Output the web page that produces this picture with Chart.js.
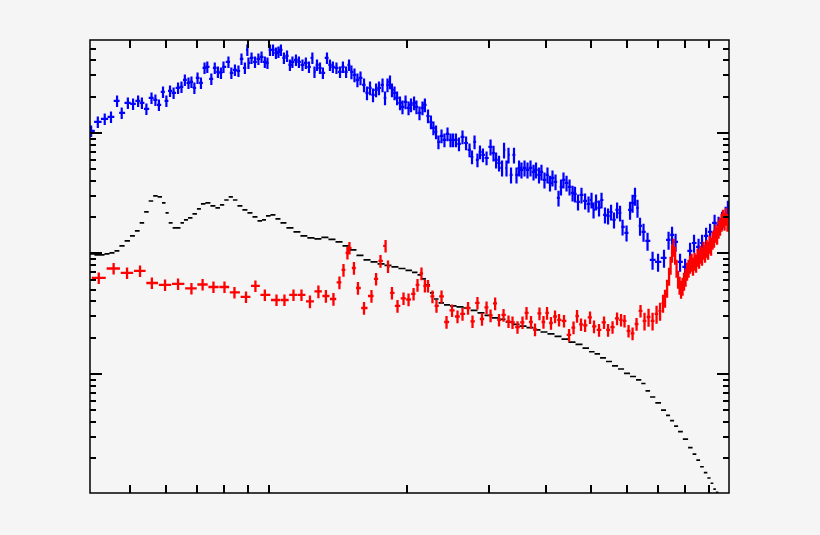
<!DOCTYPE html>
<html>
<head>
<meta charset="utf-8">
<script src="https://cdn.jsdelivr.net/npm/chart.js@4.4.1/dist/chart.umd.min.js"></script>
<style>
  html, body { margin: 0; padding: 0; background: #f5f5f5; }
  #wrap { width: 820px; height: 535px; }
</style>
</head>
<body>
<div id="wrap"><canvas id="spectrum" width="820" height="535"></canvas></div>
<script>
// blue spectrum (crosses)
const blueX = [
  0.412,0.426,0.441,0.455,0.469,0.480,0.495,0.508,0.521,0.531,
  0.543,0.557,0.568,0.578,0.590,0.600,0.611,0.622,0.636,0.647,
  0.658,0.670,0.680,0.690,0.701,0.713,0.726,0.736,0.751,0.764,
  0.776,0.788,0.798,0.818,0.830,0.845,0.860,0.873,0.888,0.899,
  0.904,0.918,0.934,0.950,0.965,0.981,0.994,1.0065,1.022,1.037,
  1.050,1.063,1.079,1.096,1.112,1.126,1.146,1.163,1.184,1.204,
  1.223,1.244,1.257,1.273,1.292,1.311,1.338,1.358,1.378,1.403,
  1.428,1.449,1.472,1.494,1.512,1.535,1.558,1.582,1.610,1.634,
  1.659,1.684,1.710,1.735,1.766,1.788,1.810,1.833,1.851,1.875,
  1.899,1.927,1.951,1.981,2.011,2.036,2.067,2.092,2.124,2.156,
  2.182,2.216,2.249,2.277,2.307,2.335,2.371,2.406,2.443,2.480,
  2.511,2.548,2.587,2.633,2.680,2.727,2.761,2.796,2.837,2.873,
  2.916,2.969,3.029,3.074,3.114,3.160,3.208,3.240,3.280,3.313,
  3.355,3.405,3.448,3.492,3.535,3.589,3.643,3.698,3.754,3.801,
  3.858,3.906,3.965,4.025,4.076,4.127,4.190,4.253,4.306,4.360,
  4.427,4.494,4.562,4.618,4.688,4.770,4.857,4.941,5.015,5.066,
  5.130,5.207,5.272,5.364,5.447,5.529,5.611,5.698,5.783,5.856,
  5.974,6.079,6.156,6.231,6.310,6.390,6.502,6.634,6.803,6.992,
  7.203,7.369,7.498,7.631,7.804,8.004,8.204,8.368,8.560,8.710,
  8.888,9.066,9.273,9.459,9.625,9.797,9.911
];
const blueY = [
  1040,1235,1308,1358,1845,1466,1776,1743,1845,1776,
  1583,1953,1880,1709,2191,1845,2233,2149,2365,2411,
  2755,2602,2652,2365,2862,2602,3465,3532,2808,3465,
  3210,3149,3532,3886,3149,3335,3272,4115,3465,4887,
  3812,4195,3886,4115,4274,3886,3812,4887,4887,4614,
  4700,4887,4195,4357,3669,3886,4037,3886,3669,3812,
  3532,4195,3210,3669,3465,3149,4195,3669,3532,3465,
  3210,3532,3210,3669,3210,3031,2755,2862,2504,2149,
  2365,2068,2276,2365,2504,1953,2504,2652,2276,2149,
  1953,1776,1645,1810,1614,1709,1776,1645,1466,1614,
  1709,1384,1235,1101,1020,843,945,876,982,876,
  876,876,811,927,826,723,632,843,598,696,
  657,620,766,682,598,564,513,723,513,657,
  449,657,449,513,494,513,494,513,475,494,
  449,475,408,449,385,424,393,289,357,408,
  385,357,318,312,268,306,273,258,278,230,
  268,239,278,209,205,221,190,230,217,166,
  148.2,230,263,300,239,169.3,151,127.1,88.4,85.1,
  91.9,129.6,142.6,124.7,85.1,77.4,105.1,122.2,113.4,122.2,
  139.9,151,179.3,172.6,190,209,234.4
];

// red spectrum (crosses)
const redX = [
  0.428,0.461,0.493,0.526,0.558,0.596,0.636,0.680,0.719,0.759,
  0.802,0.843,0.893,0.936,0.981,1.040,1.082,1.132,1.178,1.229,
  1.282,1.331,1.382,1.424,1.453,1.482,1.497,1.531,1.562,1.610,
  1.671,1.710,1.748,1.793,1.815,1.851,1.903,1.961,2.011,2.062,
  2.103,2.145,2.182,2.216,2.266,2.312,2.371,2.431,2.499,2.568,
  2.633,2.707,2.768,2.837,2.902,2.969,3.029,3.099,3.160,3.232,
  3.313,3.380,3.465,3.553,3.625,3.707,3.782,3.867,3.945,4.016,
  4.096,4.180,4.264,4.371,4.483,4.584,4.665,4.759,4.857,4.978,
  5.078,5.207,5.338,5.447,5.570,5.697,5.812,5.914,6.034,6.156,
  6.280,6.406,6.535,6.668,6.803,6.940,7.062,7.168,7.239,7.314,
  7.387,7.443,7.498,7.555,7.614,7.669,7.727,7.785,7.843,7.902,
  7.960,8.022,8.083,8.143,8.204,8.266,8.327,8.390,8.455,8.517,
  8.581,8.646,8.710,8.776,8.840,8.909,8.976,9.043,9.111,9.180,
  9.247,9.318,9.389,9.459,9.530,9.602,9.673,9.746,9.816,9.891
];
const redY = [
  62.7,75.1,69.0,71.6,56.9,54.8,55.9,51.3,55.3,52.7,
  52.7,47.5,43.6,53.8,45.3,41.1,41.1,45.3,45.3,40.0,
  48.4,44.4,41.9,57.5,73.0,101.1,111.3,75.8,51.7,35.3,
  44.4,61.5,86.7,115.6,78.2,47.1,36.7,42.4,41.5,46.2,
  54.8,68.3,53.8,53.8,44.0,36.7,44.0,27.0,33.7,30.0,
  31.5,35.3,27.3,38.9,28.6,35.7,30.6,38.5,28.1,30.9,
  27.3,26.8,24.5,26.8,32.1,27.0,23.4,31.8,27.0,32.1,
  26.5,30.0,28.1,27.6,21.1,24.3,30.3,25.8,25.3,29.5,
  24.8,23.2,26.8,23.2,24.5,28.9,28.1,27.6,22.8,21.7,
  26.0,33.4,27.6,29.7,27.6,31.5,33.4,38.9,42.7,51.7,
  65.1,80.4,101.1,113.4,97.3,75.8,61.5,54.8,50.8,53.8,
  59.2,63.9,71.6,75.8,82.0,85.1,78.9,86.7,83.5,93.6,
  90.1,99.2,95.5,107.1,101.1,111.3,107.1,120.1,115.6,129.6,
  134.6,148.2,142.6,160,169.3,182.9,197.4,186.4,205,182.9
];

// black model curve (histogram dashes)
const blackX = [
  0.414,0.424,0.435,0.446,0.457,0.469,0.480,0.494,0.5065,0.519,
  0.531,0.543,0.5555,0.568,0.581,0.593,0.602,0.612,0.626,0.639,
  0.6485,0.6616,0.675,0.692,0.706,0.720,0.738,0.757,0.776,0.792,
  0.810,0.828,0.845,0.8663,0.888,0.9108,0.934,0.9574,0.977,0.9966,
  1.0216,1.0475,1.074,1.112,1.152,1.192,1.235,1.279,1.324,1.372,
  1.421,1.4716,1.5235,1.578,1.634,1.693,1.753,1.815,1.879,1.946,
  2.016,2.077,2.129,2.172,2.216,2.260,2.307,2.365,2.437,2.511,
  2.600,2.694,2.789,2.887,2.991,3.099,3.208,3.321,3.440,3.562,
  3.689,3.820,3.955,4.096,4.243,4.392,4.550,4.711,4.880,5.028,
  5.156,5.311,5.474,5.639,5.812,5.989,6.170,6.358,6.503,6.634,
  6.803,6.992,7.203,7.350,7.498,7.651,7.804,8.023,8.225,8.391,
  8.539,8.710,8.866,9.021,9.157,9.273,9.389
];
const blackY = [
  99.2,97.3,97.3,99.2,101,105.1,115.6,127.1,139.9,153.9,
  179.3,221.4,272.7,300.2,294.5,262.9,217.1,179.3,163,163,
  179.3,190,197.4,213,234.4,257.9,262.9,248.2,239,253,
  278,294.5,278,248.2,230,217.1,201,186.4,190,205,
  209,193.7,179.3,163,151,139.9,134.6,132.3,136,130.9,
  124.7,115.6,107.1,96.4,88.4,85.1,82,79.6,77.4,75.1,
  72.3,69.6,66.4,61.5,54.8,47.1,41.9,38.9,37.4,36.7,
  36.0,35.3,33.7,32.1,30.6,29.2,28.4,27.0,25.8,25.0,
  24.3,23.2,22.3,21.5,20.5,19.5,18.4,17.6,16.4,15.3,
  14.7,13.6,12.7,11.7,11.0,10.1,9.53,8.92,8.34,7.23,
  6.44,5.75,5.02,4.53,4.11,3.70,3.33,2.88,2.45,2.16,
  1.93,1.70,1.52,1.37,1.24,1.11,1.04
];

// relative y errors, by x range: [from x, rel. error]
const blueErrSteps = [[0, 0.11], [1.5, 0.13], [3.0, 0.15], [6.0, 0.17]];
const redErrSteps = [[0, 0.11], [1.2, 0.12], [6.5, 0.17]];

const xMin = 0.4097, xMax = 9.965;
const yMin = 1.029, yMax = 5911;

const xTicks = [0.5, 0.6, 0.7, 0.8, 0.9, 1, 2, 3, 4, 5, 6, 7, 8, 9];
const yMajorTicks = [10, 100, 1000];
const yMinorTicks = [2, 3, 4, 5, 6, 7, 8, 9, 20, 30, 40, 50, 60, 70, 80, 90,
  200, 300, 400, 500, 600, 700, 800, 900, 2000, 3000, 4000, 5000];

function toPoints(xs, ys) {
  return xs.map((x, i) => ({ x: x, y: ys[i] }));
}

function errAt(steps, x) {
  let e = 0;
  steps.forEach(s => { if (x >= s[0]) e = s[1]; });
  return e;
}

// crosses / dashes, ROOT style
const errorBars = {
  id: 'errorBars',
  afterDatasetsDraw(chart) {
    const ctx = chart.ctx, a = chart.chartArea;
    const sx = chart.scales.x, sy = chart.scales.y;
    ctx.save();
    ctx.beginPath();
    ctx.rect(a.left, a.top, a.right - a.left, a.bottom - a.top);
    ctx.clip();
    chart.data.datasets.forEach(ds => {
      const pts = ds.data;
      const px = pts.map(p => sx.getPixelForValue(p.x));
      ctx.strokeStyle = ds.borderColor;
      ctx.lineWidth = ds.strokeWidth;
      ctx.beginPath();
      pts.forEach((p, i) => {
        const x = px[i], y = sy.getPixelForValue(p.y);
        const gl = i > 0 ? x - px[i - 1] : px[i + 1] - x;
        const gr = i < pts.length - 1 ? px[i + 1] - x : x - px[i - 1];
        ctx.moveTo(x - gl * ds.binFrac, y);
        ctx.lineTo(x + gr * ds.binFrac, y);
        if (ds.errSteps) {
          const e = errAt(ds.errSteps, p.x);
          ctx.moveTo(x, sy.getPixelForValue(p.y * (1 - e)));
          ctx.lineTo(x, sy.getPixelForValue(p.y * (1 + e)));
        }
      });
      ctx.stroke();
    });
    ctx.restore();
  }
};

// frame with inward ticks on all four sides
const frame = {
  id: 'frame',
  afterDraw(chart) {
    const ctx = chart.ctx, a = chart.chartArea;
    const sx = chart.scales.x, sy = chart.scales.y;
    ctx.save();
    ctx.strokeStyle = '#000';
    ctx.lineWidth = 1.5;
    ctx.strokeRect(a.left, a.top, a.right - a.left, a.bottom - a.top);
    ctx.lineWidth = 2;
    ctx.beginPath();
    xTicks.forEach(v => {
      const x = Math.round(sx.getPixelForValue(v));
      ctx.moveTo(x, a.bottom); ctx.lineTo(x, a.bottom - 8);
      ctx.moveTo(x, a.top); ctx.lineTo(x, a.top + 8);
    });
    const yTick = (v, len) => {
      const y = Math.round(sy.getPixelForValue(v));
      if (y < a.top || y > a.bottom) return;
      ctx.moveTo(a.left, y); ctx.lineTo(a.left + len, y);
      ctx.moveTo(a.right, y); ctx.lineTo(a.right - len, y);
    };
    yMajorTicks.forEach(v => yTick(v, 12));
    yMinorTicks.forEach(v => yTick(v, 6));
    ctx.stroke();
    ctx.restore();
  }
};

new Chart(document.getElementById('spectrum'), {
  type: 'scatter',
  data: {
    datasets: [
      { label: 'model', data: toPoints(blackX, blackY), borderColor: '#000000',
        pointRadius: 0, showLine: false, binFrac: 0.5, strokeWidth: 1.7 },
      { label: 'blue', data: toPoints(blueX, blueY), borderColor: '#0000ff',
        pointRadius: 0, showLine: false, binFrac: 0.55, strokeWidth: 2.2, errSteps: blueErrSteps },
      { label: 'red', data: toPoints(redX, redY), borderColor: '#ff0000',
        pointRadius: 0, showLine: false, binFrac: 0.47, strokeWidth: 2.3, errSteps: redErrSteps }
    ]
  },
  options: {
    responsive: false,
    animation: false,
    layout: { padding: { left: 90, top: 40, right: 91, bottom: 42 } },
    plugins: { legend: { display: false }, tooltip: { enabled: false } },
    scales: {
      x: { type: 'logarithmic', min: xMin, max: xMax, display: false },
      y: { type: 'logarithmic', min: yMin, max: yMax, display: false }
    }
  },
  plugins: [errorBars, frame]
});
</script>
</body>
</html>
